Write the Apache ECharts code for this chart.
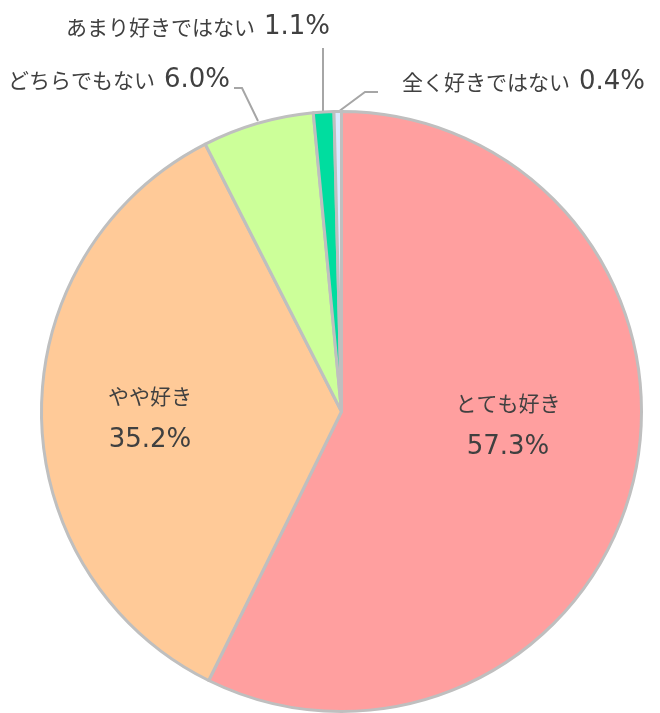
<!DOCTYPE html>
<html>
<head>
<meta charset="utf-8">
<script src="https://cdn.jsdelivr.net/npm/echarts@6/dist/echarts.min.js"></script>
<style>
  html, body { margin: 0; padding: 0; background: #fff; }
  #container { width: 660px; height: 713px; }
</style>
</head>
<body>
<div id="container"></div>
<script>
var categories = ['とても好き', 'やや好き', 'どちらでもない', 'あまり好きではない', '全く好きではない'];
var values = [57.3, 35.2, 6.0, 1.1, 0.4];
var colors = ['#FF9F9F', '#FFCA98', '#CCFF99', '#00DD9F', '#DCEAFF'];
var insideLabel = [true, true, false, false, false];

// label placement (layout only)
var labelPos = [
  { x: 508, y: 425, align: 'center' },
  { x: 150, y: 418, align: 'center' },
  { x: 8, y: 80, align: 'left', line: [[234, 88], [242, 88], [258, 121]] },
  { x: 66, y: 27, align: 'left', line: [[323, 48], [323, 80], [323, 111]] },
  { x: 402, y: 82, align: 'left', line: [[378, 92], [365, 92], [338, 112]] }
];

var dom = document.getElementById('container');
var myChart = echarts.init(dom);
var option;

var pieData = categories.map(function (name, i) {
  var item = {
    name: name,
    value: values[i],
    itemStyle: { color: colors[i] }
  };
  if (insideLabel[i]) {
    item.label = { position: 'inside' };
    item.labelLine = { show: false };
  } else {
    item.label = { position: 'outside' };
    item.labelLine = { show: true };
  }
  return item;
});

option = {
  animation: false,
  series: [
    {
      type: 'pie',
      center: [341.5, 411.5],
      radius: 300,
      startAngle: 90,
      clockwise: true,
      itemStyle: {
        borderColor: '#BFBFBF',
        borderWidth: 3
      },
      label: {
        color: '#404040',
        overflow: 'none',
        edgeDistance: 0,
        formatter: function (p) {
          var pct = '{p|' + p.value.toFixed(1) + '%}';
          if (insideLabel[p.dataIndex]) {
            return '{n|' + p.name + '}\n' + pct;
          }
          return '{n|' + p.name + '}{s|}' + pct;
        },
        rich: {
          n: { fontFamily: 'Noto Sans CJK JP', fontSize: 21, color: '#404040', lineHeight: 44 },
          s: { width: 9 },
          p: { fontFamily: 'DejaVu Sans', fontSize: 26, color: '#404040', lineHeight: 44 }
        }
      },
      labelLine: {
        lineStyle: { color: '#A6A6A6', width: 2 }
      },
      emphasis: { disabled: true },
      labelLayout: function (params) {
        var p = labelPos[params.dataIndex];
        var res = { x: p.x, y: p.y, align: p.align, verticalAlign: 'middle' };
        if (p.line) {
          res.labelLinePoints = p.line;
        }
        return res;
      },
      data: pieData
    }
  ]
};

if (option && typeof option === 'object') {
  myChart.setOption(option);
}
</script>
</body>
</html>
